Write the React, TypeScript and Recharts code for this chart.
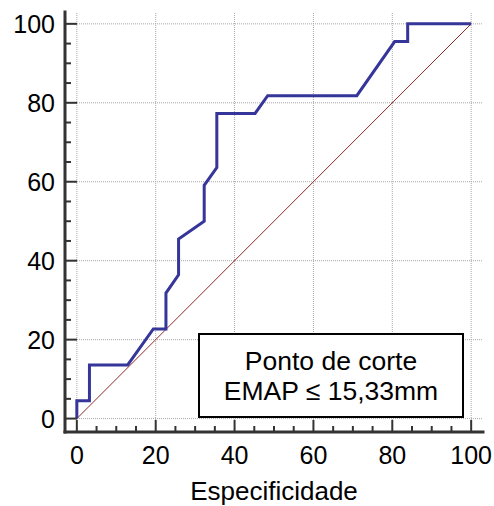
import React from 'react';
import { LineChart, Line, XAxis, YAxis, ReferenceLine } from 'recharts';

// ROC curve points (specificity axis, sensitivity axis)
const specificity = [0, 0, 3.2, 3.2, 12.9, 19.4, 22.6, 22.6, 25.8, 25.8, 32.3, 32.3, 35.5, 35.5, 45.2, 48.4, 71.0, 80.6, 83.9, 83.9, 100];
const sensitivity = [0, 4.5, 4.5, 13.6, 13.6, 22.7, 22.7, 31.8, 36.4, 45.5, 50.0, 59.1, 63.6, 77.3, 77.3, 81.8, 81.8, 95.5, 95.5, 100, 100];

const majorTicks = [0, 20, 40, 60, 80, 100];
const allTicks = [0, 5, 10, 15, 20, 25, 30, 35, 40, 45, 50, 55, 60, 65, 70, 75, 80, 85, 90, 95, 100];
const diagonal = [{ x: 0, y: 0 }, { x: 100, y: 100 }];
const xTitle = 'Especificidade';
const boxLines = ['Ponto de corte', 'EMAP \u2264 15,33mm'];

const data = specificity.map((x, i) => ({ x, y: sensitivity[i] }));

const W = 494;
const H = 506;
const Y_AXIS_W = 65;
const X_AXIS_H = 74;
const AXIS_X = Y_AXIS_W;
const AXIS_Y = H - X_AXIS_H;
const FONT = '"Liberation Sans", Arial, sans-serif';
const TICK_FONT = 25;

const XTick = (props: any) => {
  const { x, payload } = props;
  const v = payload.value;
  const major = v % 20 === 0;
  return (
    <g>
      <line x1={x} x2={x} y1={AXIS_Y} y2={AXIS_Y - (major ? 12 : 6)} stroke="#333" strokeWidth={2} />
      {major && (
        <text x={x} y={AXIS_Y + 32} textAnchor="middle" fontSize={TICK_FONT} fontFamily={FONT} fill="#000">
          {v}
        </text>
      )}
    </g>
  );
};

const YTick = (props: any) => {
  const { y, payload } = props;
  const v = payload.value;
  const major = v % 20 === 0;
  return (
    <g>
      <line x1={AXIS_X} x2={AXIS_X + (major ? 12 : 6)} y1={y} y2={y} stroke="#333" strokeWidth={2} />
      {major && (
        <text x={AXIS_X - 10} y={y} dy="0.36em" textAnchor="end" fontSize={TICK_FONT} fontFamily={FONT} fill="#000">
          {v}
        </text>
      )}
    </g>
  );
};

export default function App() {
  return (
    <div style={{ position: 'absolute', left: 0, top: 0, width: W, height: H, background: '#fff' }}>
      <LineChart width={W} height={H} data={data} margin={{ top: 12, right: 11, bottom: 0, left: 0 }}>
        {majorTicks.map((t) => (
          <ReferenceLine key={'gx' + t} x={t} stroke="#a8a8a8" strokeWidth={1} strokeDasharray="1 1" />
        ))}
        {majorTicks.map((t) => (
          <ReferenceLine key={'gy' + t} y={t} stroke="#a8a8a8" strokeWidth={1} strokeDasharray="1 1" />
        ))}
        <ReferenceLine segment={diagonal} stroke="#8e2a2a" strokeWidth={1} />
        <XAxis
          type="number"
          dataKey="x"
          domain={[-3, 103]}
          ticks={allTicks}
          interval={0}
          allowDataOverflow
          height={X_AXIS_H}
          tickLine={false}
          tick={<XTick />}
          axisLine={{ stroke: '#333', strokeWidth: 3, strokeLinecap: 'square' }}
          label={{ value: xTitle, position: 'insideBottom', offset: 6, fontSize: 26, fontFamily: FONT, fill: '#000' }}
        />
        <YAxis
          type="number"
          domain={[-3.4, 103]}
          ticks={allTicks}
          interval={0}
          allowDataOverflow
          width={Y_AXIS_W}
          tickLine={false}
          tick={<YTick />}
          axisLine={{ stroke: '#333', strokeWidth: 3, strokeLinecap: 'square' }}
        />
        <Line
          type="linear"
          dataKey="y"
          stroke="#35359a"
          strokeWidth={3}
          dot={false}
          activeDot={false}
          isAnimationActive={false}
        />
      </LineChart>
      <div
        style={{
          position: 'absolute',
          left: 198,
          top: 333,
          width: 266,
          height: 85,
          boxSizing: 'border-box',
          border: '2px solid #000',
          background: '#fff',
          display: 'flex',
          flexDirection: 'column',
          justifyContent: 'center',
          alignItems: 'center',
          fontFamily: FONT,
          fontSize: 26.5,
          lineHeight: '30px',
          color: '#000',
        }}
      >
        {boxLines.map((l) => (
          <div key={l}>{l}</div>
        ))}
      </div>
    </div>
  );
}
